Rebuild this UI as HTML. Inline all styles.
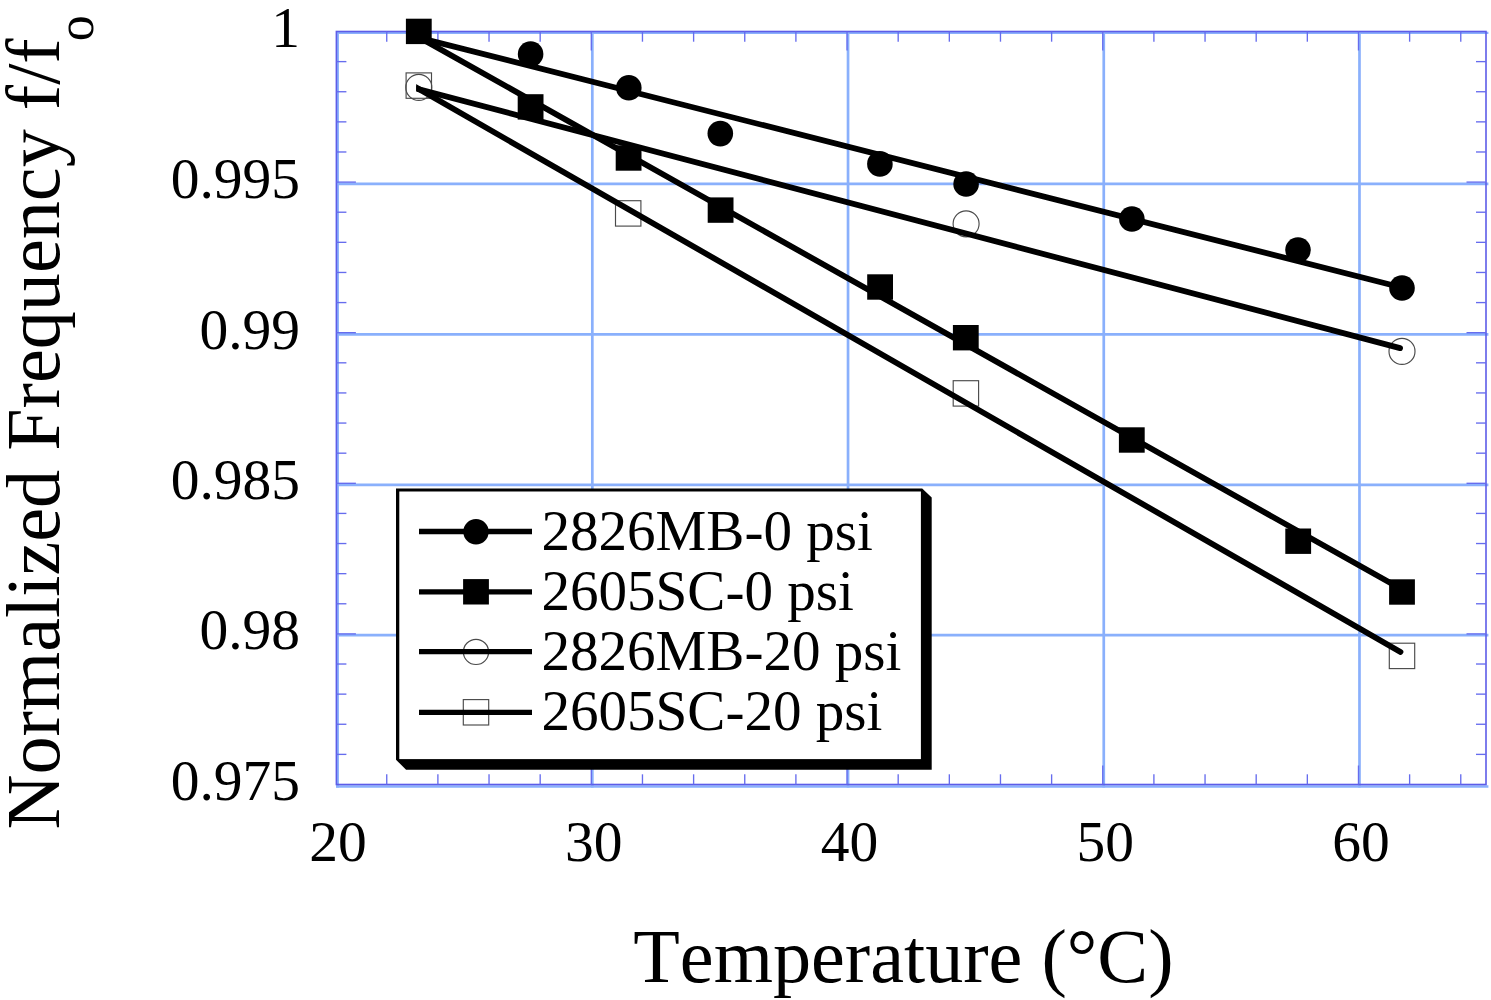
<!DOCTYPE html>
<html lang="en"><head><meta charset="utf-8"><title>Normalized Frequency vs Temperature</title>
<style>html,body{margin:0;padding:0;background:#fff}body{width:1491px;height:1000px;overflow:hidden}svg{display:block;filter:blur(0.4px)}text{font-kerning:none;font-variant-ligatures:none;font-family:"Liberation Serif",serif;fill:#000}</style></head><body>
<svg width="1491" height="1000" viewBox="0 0 1491 1000">
<rect width="1491" height="1000" fill="#fff"/>
<g stroke="#8ab0fc" stroke-width="2.7" fill="none">
<line x1="337.60" y1="31" x2="337.60" y2="787.5"/>
<line x1="592.32" y1="31" x2="592.32" y2="787.5"/>
<line x1="848.04" y1="31" x2="848.04" y2="787.5"/>
<line x1="1103.76" y1="31" x2="1103.76" y2="787.5"/>
<line x1="1359.48" y1="31" x2="1359.48" y2="787.5"/>
<line x1="336" y1="32.90" x2="1488.4" y2="32.90" stroke-width="2.3"/>
<line x1="336" y1="183.90" x2="1488.4" y2="183.90" stroke-width="2.7"/>
<line x1="336" y1="334.30" x2="1488.4" y2="334.30" stroke-width="2.7"/>
<line x1="336" y1="484.80" x2="1488.4" y2="484.80" stroke-width="2.7"/>
<line x1="336" y1="635.20" x2="1488.4" y2="635.20" stroke-width="2.7"/>
<line x1="336" y1="786.50" x2="1488.4" y2="786.50" stroke-width="2.7"/>
</g>
<rect x="336.4" y="31.5" width="1149.6" height="753.0" fill="none" stroke="#5d5ce8" stroke-width="1.6"/>
<g stroke="#666cee" stroke-width="1.35" fill="none">
<line x1="386.74" y1="31.5" x2="386.74" y2="41.7"/>
<line x1="386.74" y1="784.5" x2="386.74" y2="774.3"/>
<line x1="437.89" y1="31.5" x2="437.89" y2="41.7"/>
<line x1="437.89" y1="784.5" x2="437.89" y2="774.3"/>
<line x1="489.03" y1="31.5" x2="489.03" y2="41.7"/>
<line x1="489.03" y1="784.5" x2="489.03" y2="774.3"/>
<line x1="540.18" y1="31.5" x2="540.18" y2="41.7"/>
<line x1="540.18" y1="784.5" x2="540.18" y2="774.3"/>
<line x1="591.32" y1="31.5" x2="591.32" y2="50.5"/>
<line x1="591.32" y1="784.5" x2="591.32" y2="765.5"/>
<line x1="642.46" y1="31.5" x2="642.46" y2="41.7"/>
<line x1="642.46" y1="784.5" x2="642.46" y2="774.3"/>
<line x1="693.61" y1="31.5" x2="693.61" y2="41.7"/>
<line x1="693.61" y1="784.5" x2="693.61" y2="774.3"/>
<line x1="744.75" y1="31.5" x2="744.75" y2="41.7"/>
<line x1="744.75" y1="784.5" x2="744.75" y2="774.3"/>
<line x1="795.90" y1="31.5" x2="795.90" y2="41.7"/>
<line x1="795.90" y1="784.5" x2="795.90" y2="774.3"/>
<line x1="847.04" y1="31.5" x2="847.04" y2="50.5"/>
<line x1="847.04" y1="784.5" x2="847.04" y2="765.5"/>
<line x1="898.18" y1="31.5" x2="898.18" y2="41.7"/>
<line x1="898.18" y1="784.5" x2="898.18" y2="774.3"/>
<line x1="949.33" y1="31.5" x2="949.33" y2="41.7"/>
<line x1="949.33" y1="784.5" x2="949.33" y2="774.3"/>
<line x1="1000.47" y1="31.5" x2="1000.47" y2="41.7"/>
<line x1="1000.47" y1="784.5" x2="1000.47" y2="774.3"/>
<line x1="1051.62" y1="31.5" x2="1051.62" y2="41.7"/>
<line x1="1051.62" y1="784.5" x2="1051.62" y2="774.3"/>
<line x1="1102.76" y1="31.5" x2="1102.76" y2="50.5"/>
<line x1="1102.76" y1="784.5" x2="1102.76" y2="765.5"/>
<line x1="1153.90" y1="31.5" x2="1153.90" y2="41.7"/>
<line x1="1153.90" y1="784.5" x2="1153.90" y2="774.3"/>
<line x1="1205.05" y1="31.5" x2="1205.05" y2="41.7"/>
<line x1="1205.05" y1="784.5" x2="1205.05" y2="774.3"/>
<line x1="1256.19" y1="31.5" x2="1256.19" y2="41.7"/>
<line x1="1256.19" y1="784.5" x2="1256.19" y2="774.3"/>
<line x1="1307.34" y1="31.5" x2="1307.34" y2="41.7"/>
<line x1="1307.34" y1="784.5" x2="1307.34" y2="774.3"/>
<line x1="1358.48" y1="31.5" x2="1358.48" y2="50.5"/>
<line x1="1358.48" y1="784.5" x2="1358.48" y2="765.5"/>
<line x1="1409.62" y1="31.5" x2="1409.62" y2="41.7"/>
<line x1="1409.62" y1="784.5" x2="1409.62" y2="774.3"/>
<line x1="1460.77" y1="31.5" x2="1460.77" y2="41.7"/>
<line x1="1460.77" y1="784.5" x2="1460.77" y2="774.3"/>
<line x1="336.4" y1="61.62" x2="346.4" y2="61.62"/>
<line x1="1486.0" y1="61.62" x2="1476.0" y2="61.62"/>
<line x1="336.4" y1="91.74" x2="346.4" y2="91.74"/>
<line x1="1486.0" y1="91.74" x2="1476.0" y2="91.74"/>
<line x1="336.4" y1="121.86" x2="346.4" y2="121.86"/>
<line x1="1486.0" y1="121.86" x2="1476.0" y2="121.86"/>
<line x1="336.4" y1="151.98" x2="346.4" y2="151.98"/>
<line x1="1486.0" y1="151.98" x2="1476.0" y2="151.98"/>
<line x1="336.4" y1="182.10" x2="355.9" y2="182.10"/>
<line x1="1486.0" y1="182.10" x2="1466.5" y2="182.10"/>
<line x1="336.4" y1="212.22" x2="346.4" y2="212.22"/>
<line x1="1486.0" y1="212.22" x2="1476.0" y2="212.22"/>
<line x1="336.4" y1="242.34" x2="346.4" y2="242.34"/>
<line x1="1486.0" y1="242.34" x2="1476.0" y2="242.34"/>
<line x1="336.4" y1="272.46" x2="346.4" y2="272.46"/>
<line x1="1486.0" y1="272.46" x2="1476.0" y2="272.46"/>
<line x1="336.4" y1="302.58" x2="346.4" y2="302.58"/>
<line x1="1486.0" y1="302.58" x2="1476.0" y2="302.58"/>
<line x1="336.4" y1="332.70" x2="355.9" y2="332.70"/>
<line x1="1486.0" y1="332.70" x2="1466.5" y2="332.70"/>
<line x1="336.4" y1="362.82" x2="346.4" y2="362.82"/>
<line x1="1486.0" y1="362.82" x2="1476.0" y2="362.82"/>
<line x1="336.4" y1="392.94" x2="346.4" y2="392.94"/>
<line x1="1486.0" y1="392.94" x2="1476.0" y2="392.94"/>
<line x1="336.4" y1="423.06" x2="346.4" y2="423.06"/>
<line x1="1486.0" y1="423.06" x2="1476.0" y2="423.06"/>
<line x1="336.4" y1="453.18" x2="346.4" y2="453.18"/>
<line x1="1486.0" y1="453.18" x2="1476.0" y2="453.18"/>
<line x1="336.4" y1="483.30" x2="355.9" y2="483.30"/>
<line x1="1486.0" y1="483.30" x2="1466.5" y2="483.30"/>
<line x1="336.4" y1="513.42" x2="346.4" y2="513.42"/>
<line x1="1486.0" y1="513.42" x2="1476.0" y2="513.42"/>
<line x1="336.4" y1="543.54" x2="346.4" y2="543.54"/>
<line x1="1486.0" y1="543.54" x2="1476.0" y2="543.54"/>
<line x1="336.4" y1="573.66" x2="346.4" y2="573.66"/>
<line x1="1486.0" y1="573.66" x2="1476.0" y2="573.66"/>
<line x1="336.4" y1="603.78" x2="346.4" y2="603.78"/>
<line x1="1486.0" y1="603.78" x2="1476.0" y2="603.78"/>
<line x1="336.4" y1="633.90" x2="355.9" y2="633.90"/>
<line x1="1486.0" y1="633.90" x2="1466.5" y2="633.90"/>
<line x1="336.4" y1="664.02" x2="346.4" y2="664.02"/>
<line x1="1486.0" y1="664.02" x2="1476.0" y2="664.02"/>
<line x1="336.4" y1="694.14" x2="346.4" y2="694.14"/>
<line x1="1486.0" y1="694.14" x2="1476.0" y2="694.14"/>
<line x1="336.4" y1="724.26" x2="346.4" y2="724.26"/>
<line x1="1486.0" y1="724.26" x2="1476.0" y2="724.26"/>
<line x1="336.4" y1="754.38" x2="346.4" y2="754.38"/>
<line x1="1486.0" y1="754.38" x2="1476.0" y2="754.38"/>
</g>
<rect x="406.1" y="72.9" width="25.4" height="25.4" stroke="#4a4a4a" stroke-width="1.15" fill="none"/>
<rect x="615.5" y="200.7" width="25.4" height="25.4" stroke="#4a4a4a" stroke-width="1.15" fill="none"/>
<rect x="953.2" y="380.7" width="25.4" height="25.4" stroke="#4a4a4a" stroke-width="1.15" fill="none"/>
<rect x="1389.3" y="643.2" width="25.4" height="25.4" stroke="#4a4a4a" stroke-width="1.15" fill="none"/>
<circle cx="418.8" cy="87.4" r="13" stroke="#4a4a4a" stroke-width="1.15" fill="none"/>
<circle cx="966.1" cy="223.8" r="13" stroke="#4a4a4a" stroke-width="1.15" fill="none"/>
<circle cx="1402.0" cy="351.4" r="13" stroke="#4a4a4a" stroke-width="1.15" fill="none"/>
<clipPath id="cl"><rect x="416.2" y="0" width="1100" height="1000"/></clipPath>
<g stroke="#000" stroke-width="5.8" fill="none" stroke-linecap="round" clip-path="url(#cl)">
<line x1="412.88" y1="36.12" x2="1399.67" y2="286.96"/>
<line x1="413.47" y1="34.16" x2="1399.88" y2="588.32"/>
<line x1="410.50" y1="86.97" x2="1400.07" y2="348.14"/>
<line x1="411.09" y1="84.62" x2="1400.49" y2="651.91"/>
</g>
<circle cx="530.6" cy="54.1" r="12.8" fill="#000"/>
<circle cx="628.8" cy="87.7" r="12.8" fill="#000"/>
<circle cx="720.3" cy="133.6" r="12.8" fill="#000"/>
<circle cx="879.9" cy="163.9" r="12.8" fill="#000"/>
<circle cx="966.1" cy="184.0" r="12.8" fill="#000"/>
<circle cx="1131.9" cy="219.0" r="12.8" fill="#000"/>
<circle cx="1298.0" cy="250.0" r="12.8" fill="#000"/>
<circle cx="1402.0" cy="288.0" r="12.8" fill="#000"/>
<rect x="405.9" y="18.7" width="25.8" height="25.4" fill="#000"/>
<rect x="517.7" y="94.2" width="25.8" height="25.4" fill="#000"/>
<rect x="615.7" y="145.3" width="25.8" height="25.4" fill="#000"/>
<rect x="707.7" y="197.4" width="25.8" height="25.4" fill="#000"/>
<rect x="867.2" y="274.3" width="25.8" height="25.4" fill="#000"/>
<rect x="952.9" y="325.0" width="25.8" height="25.4" fill="#000"/>
<rect x="1118.9" y="427.3" width="25.8" height="25.4" fill="#000"/>
<rect x="1285.3" y="528.5" width="25.8" height="25.4" fill="#000"/>
<rect x="1389.1" y="579.3" width="25.8" height="25.4" fill="#000"/>
<polygon points="396,488.4 922.2,488.4 931.7,497.6 931.7,769.8 406.1,769.8 396,759.7" fill="#000"/>
<rect x="399.3" y="491.5" width="521.6" height="267.6" fill="#fff"/>
<line x1="419" y1="531.5" x2="532" y2="531.5" stroke="#000" stroke-width="5.3"/>
<circle cx="476" cy="531.8" r="12.7" fill="#000"/>
<text x="541.4" y="549.8" font-size="57.1">2826MB-0 psi</text>
<line x1="419" y1="591.8" x2="532" y2="591.8" stroke="#000" stroke-width="5.3"/>
<rect x="463.1" y="579.1" width="25.8" height="25.4" fill="#000"/>
<text x="541.4" y="609.8" font-size="57.1">2605SC-0 psi</text>
<circle cx="476" cy="651.9" r="12.6" stroke="#4a4a4a" stroke-width="1.15" fill="none"/>
<line x1="419" y1="651.6" x2="532" y2="651.6" stroke="#000" stroke-width="5.3"/>
<text x="541.4" y="669.7" font-size="57.1">2826MB-20 psi</text>
<rect x="463.3" y="699.6" width="25.4" height="25.4" stroke="#4a4a4a" stroke-width="1.15" fill="none"/>
<line x1="419" y1="712.3" x2="532" y2="712.3" stroke="#000" stroke-width="5.3"/>
<text x="541.4" y="730.0" font-size="57.1">2605SC-20 psi</text>
<text x="300.0" y="47.4" font-size="57.5" text-anchor="end">1</text>
<text x="300.0" y="198.1" font-size="57.5" text-anchor="end">0.995</text>
<text x="300.0" y="348.5" font-size="57.5" text-anchor="end">0.99</text>
<text x="300.0" y="499.0" font-size="57.5" text-anchor="end">0.985</text>
<text x="300.0" y="649.4" font-size="57.5" text-anchor="end">0.98</text>
<text x="300.0" y="800.1" font-size="57.5" text-anchor="end">0.975</text>
<text x="338.1" y="860.6" font-size="57.5" text-anchor="middle">20</text>
<text x="593.8" y="860.6" font-size="57.5" text-anchor="middle">30</text>
<text x="849.5" y="860.6" font-size="57.5" text-anchor="middle">40</text>
<text x="1105.3" y="860.6" font-size="57.5" text-anchor="middle">50</text>
<text x="1361.0" y="860.6" font-size="57.5" text-anchor="middle">60</text>
<text x="903.4" y="981.9" font-size="76.2" text-anchor="middle">Temperature (°C)</text>
<text transform="translate(59.0,829.5) rotate(-90)" font-size="76.2">Normalized Frequency f/f<tspan font-size="52" dx="-3" dy="34">o</tspan></text>
</svg></body></html>
